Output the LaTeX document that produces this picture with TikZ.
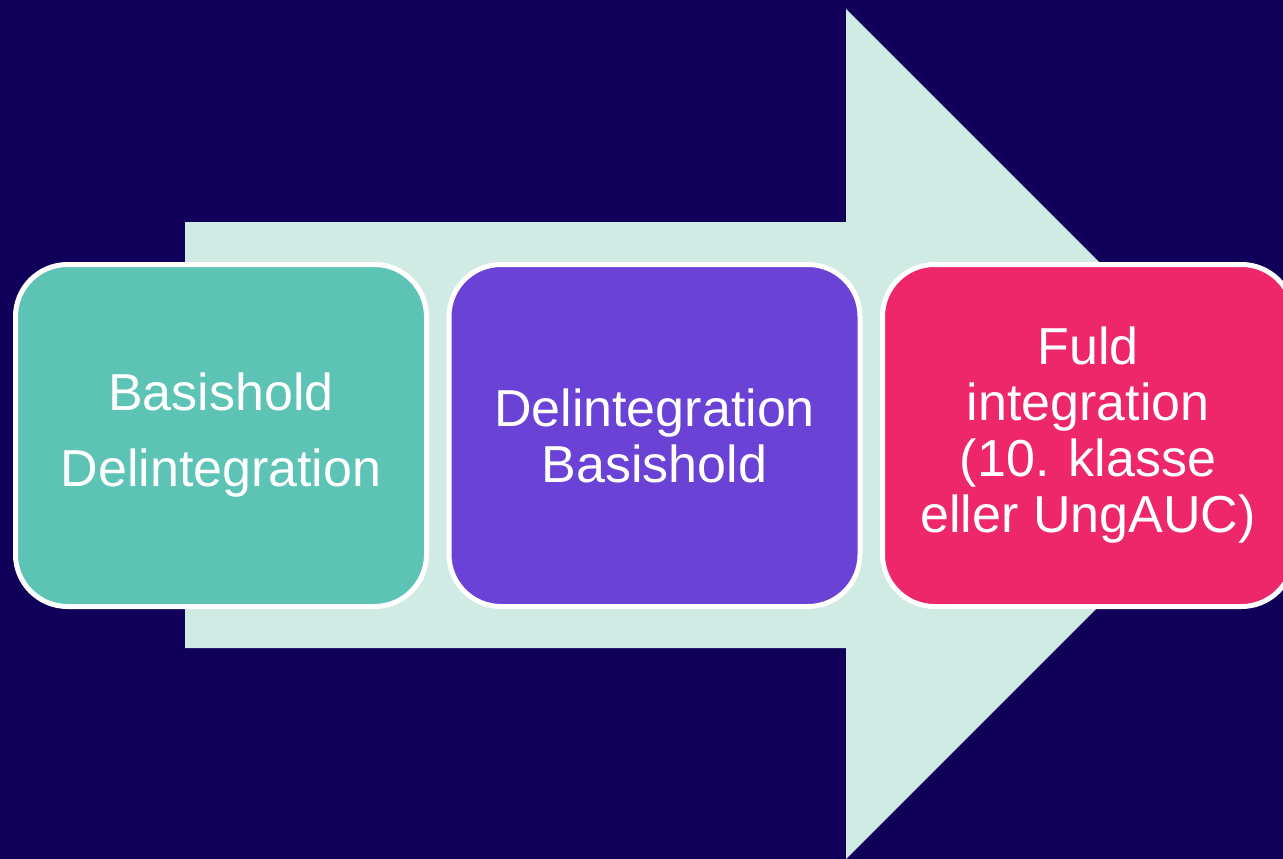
\documentclass[tikz,border=0pt]{standalone}
\usepackage{fontspec}
\setmainfont{Liberation Sans}
\definecolor{bgnavy}{HTML}{10005A}
\definecolor{arrowmint}{HTML}{D0EAE4}
\definecolor{tealbox}{HTML}{5DC3B5}
\definecolor{purplebox}{HTML}{6A42D6}
\definecolor{pinkbox}{HTML}{EE266A}
\begin{document}
\begin{tikzpicture}[x=1pt,y=-1pt,
  stagebox/.style={draw=white, line width=5pt, rounded corners=52pt,
    minimum width=411pt, minimum height=342pt, inner sep=0pt,
    align=center, text=white, font=\fontsize{52}{56}\selectfont}]
\useasboundingbox (0,0) rectangle (1283,859);
\clip (0,0) rectangle (1283,859);
\fill[bgnavy] (0,0) rectangle (1283,859);
\fill[arrowmint] (185,222) -- (846,222) -- (846,9) -- (1271,434) -- (846,859) -- (846,648) -- (185,648) -- cycle;
\node[stagebox, fill=tealbox] (s1) at (221,435.5) {Basishold\\[20pt]Delintegration};
\node[stagebox, fill=purplebox] (s2) at (654.5,435.5) {Delintegration\\Basishold};
\node[stagebox, fill=pinkbox] (s3) at (1088,435.5) {Fuld\\integration\\(10. klasse\\eller UngAUC)};
\end{tikzpicture}
\end{document}
